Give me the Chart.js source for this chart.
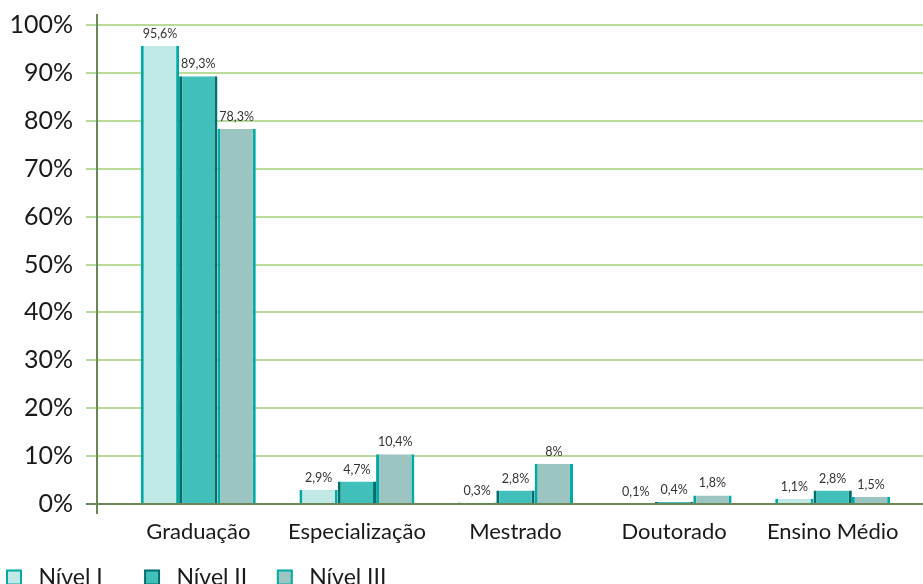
<!DOCTYPE html>
<html>
<head>
<meta charset="utf-8">
<script src="https://cdn.jsdelivr.net/npm/chart.js@4/dist/chart.umd.min.js"></script>
<style>
  html, body { margin: 0; padding: 0; background: #fff; overflow: hidden; }
  #wrap { width: 923px; height: 584px; overflow: hidden; }
</style>
</head>
<body>
<div id="wrap"><canvas id="escolaridadeChart" width="923" height="599"></canvas></div>
<script>
'use strict';

// categorias e series (valores em %)
let categorias = ['Graduação', 'Especialização', 'Mestrado', 'Doutorado', 'Ensino Médio'];
let nivel1 = [95.6, 2.9, 0.3, 0.1, 1.1];
let nivel2 = [89.3, 4.7, 2.8, 0.4, 2.8];
let nivel3 = [78.3, 10.4, 8.4, 1.8, 1.5];
// rotulos como aparecem no grafico original
let rotulos1 = ['95,6%', '2,9%', '0,3%', '0,1%', '1,1%'];
let rotulos2 = ['89,3%', '4,7%', '2,8%', '0,4%', '2,8%'];
let rotulos3 = ['78,3%', '10,4%', '8%', '1,8%', '1,5%'];
let yTicks = [0, 10, 20, 30, 40, 50, 60, 70, 80, 90, 100];

let fonte = 'Lato, "Open Sans", sans-serif';
let ctx = document.getElementById('escolaridadeChart').getContext('2d');

// grade, eixos e rotulos desenhados a partir das escalas
let gradePlugin = {
  id: 'grade',
  beforeDatasetsDraw (chart) {
    let c = chart.ctx;
    let y = chart.scales.y;
    c.save();
    c.lineWidth = 2;
    c.strokeStyle = '#b8da9a';
    yTicks.forEach(v => {
      if (v === 0) return;
      let py = Math.round(y.getPixelForValue(v));
      c.beginPath();
      c.moveTo(86, py);
      c.lineTo(chart.width, py);
      c.stroke();
    });
    c.strokeStyle = '#6b8657';
    c.beginPath();
    c.moveTo(97, y.getPixelForValue(100) - 11);
    c.lineTo(97, y.getPixelForValue(0) + 10);
    c.stroke();
    c.restore();
  },
  afterDatasetsDraw (chart) {
    let c = chart.ctx;
    let py = Math.round(chart.scales.y.getPixelForValue(0));
    c.save();
    c.lineWidth = 2;
    c.strokeStyle = '#6b8657';
    c.beginPath();
    c.moveTo(86, py);
    c.lineTo(chart.width, py);
    c.stroke();

    let todos = [rotulos1, rotulos2, rotulos3];
    c.font = '12.5px ' + fonte;
    c.fillStyle = '#333333';
    c.textAlign = 'center';
    c.textBaseline = 'middle';
    chart.data.datasets.forEach((ds, i) => {
      chart.getDatasetMeta(i).data.forEach((bar, j) => {
        c.fillText(todos[i][j], bar.x, bar.y - 12);
      });
    });
    c.restore();
  }
};

let chart = new Chart(ctx, {
  type: 'bar',
  data: {
    labels: categorias,
    datasets: [{
      label: 'Nível I',
      data: nivel1,
      backgroundColor: '#c0e9e6',
      borderColor: '#00aaa5',
      borderWidth: { left: 3, right: 3, top: 0, bottom: 0 }
    }, {
      label: 'Nível II',
      data: nivel2,
      backgroundColor: '#41bfbb',
      borderColor: '#006e6a',
      borderWidth: { left: 3, right: 3, top: 0, bottom: 0 }
    }, {
      label: 'Nível III',
      data: nivel3,
      backgroundColor: '#9cc4c1',
      borderColor: '#00aaa5',
      borderWidth: { left: 3, right: 3, top: 0, bottom: 0 }
    }]
  },
  options: {
    responsive: false,
    animation: false,
    barPercentage: 1,
    categoryPercentage: 0.725,
    layout: { padding: { top: 0, right: 11, left: 0, bottom: 0 } },
    scales: {
      x: {
        grid: { display: false, drawTicks: false },
        border: { display: false },
        ticks: { color: '#1a1a1a', padding: 15, font: { family: fonte, size: 22 } },
        afterFit (scale) { scale.height = 55; }
      },
      y: {
        min: 0,
        max: 100,
        afterBuildTicks (scale) { scale.ticks = yTicks.map(v => ({ value: v })); },
        grid: { display: false, drawTicks: false },
        border: { display: false },
        ticks: {
          color: '#1a1a1a',
          padding: 46,
          font: { family: fonte, size: 25 },
          callback: v => v + '%'
        },
        afterFit (scale) {
          scale.width = 119;
          scale.paddingTop = 25;
          scale.paddingBottom = 0;
        }
      }
    },
    plugins: {
      tooltip: { enabled: false },
      legend: {
        position: 'bottom',
        align: 'start',
        labels: {
          color: '#1a1a1a',
          boxWidth: 14,
          boxHeight: 14,
          padding: 7,
          font: { family: fonte, size: 23 },
          generateLabels (ch) {
            let c = ch.ctx;
            c.save();
            c.font = '23px ' + fonte;
            let itens = ch.data.datasets.map((ds, i) => {
              // espaco extra entre os itens da legenda
              let t = ' ' + ds.label;
              while (c.measureText(t).width < 100) t += ' ';
              return {
                text: t,
                fillStyle: ds.backgroundColor,
                strokeStyle: ds.borderColor,
                lineWidth: 2,
                fontColor: '#1a1a1a',
                hidden: false,
                datasetIndex: i
              };
            });
            c.restore();
            return itens;
          }
        }
      }
    }
  },
  plugins: [gradePlugin]
});
</script>
</body>
</html>
